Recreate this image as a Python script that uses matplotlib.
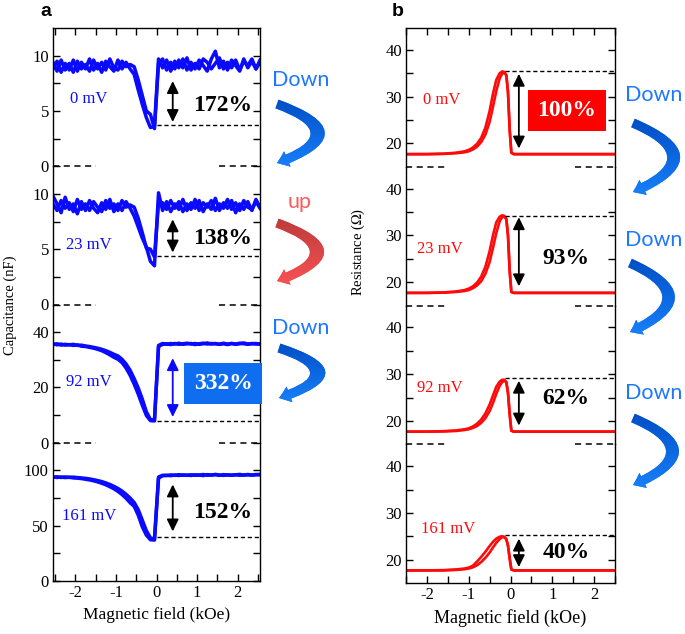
import numpy as np
import matplotlib.pyplot as plt
from matplotlib.patches import FancyArrowPatch
from matplotlib.colors import LinearSegmentedColormap
from matplotlib.ticker import MultipleLocator, FixedLocator

plt.rcParams['font.family'] = ['Liberation Serif', 'DejaVu Serif']
plt.rcParams['mathtext.fontset'] = 'stix'
plt.rcParams['axes.unicode_minus'] = False

# ---------------- data ----------------
bias = ['0 mV', '23 mV', '92 mV', '161 mV']

# panel a : capacitance (nF), two sweep branches per bias
xa = [-2.55, -2.45, -2.35, -2.25, -2.15, -2.05, -1.95, -1.85, -1.75, -1.65,
      -1.55, -1.45, -1.35, -1.25, -1.15, -1.05, -0.95, -0.85, -0.75, -0.65,
      -0.55, -0.45, -0.35, -0.25, -0.15, -0.05, 0.05, 0.15, 0.25, 0.35,
      0.45, 0.55, 0.65, 0.75, 0.85, 0.95, 1.05, 1.15, 1.25, 1.35,
      1.45, 1.55, 1.65, 1.75, 1.85, 1.95, 2.05, 2.15, 2.25, 2.35,
      2.45, 2.55]

cap_0_a = [8.8, 9.5, 8.5, 9.3, 8.7, 9.6, 8.6, 9.4, 8.8, 9.7,
           8.7, 9.3, 8.5, 9.5, 9.0, 8.6, 9.6, 8.8, 9.4, 8.8,
           8.3, 6.9, 5.6, 4.4, 3.5, 3.6, 9.7, 8.9, 9.6, 8.6,
           9.5, 8.9, 9.7, 8.7, 9.4, 8.8, 9.6, 9.1, 8.6, 9.7,
           10.4, 8.9, 9.5, 8.7, 9.6, 9.1, 8.6, 9.7, 8.9, 9.5,
           8.8, 9.6]
cap_0_b = [9.4, 8.6, 9.6, 8.7, 9.3, 8.5, 9.5, 8.8, 9.2, 8.6,
           9.6, 8.8, 9.4, 8.7, 9.7, 8.9, 8.7, 9.5, 9.0, 9.2,
           9.0, 7.8, 6.4, 5.0, 4.7, 3.4, 9.3, 9.7, 8.7, 9.4,
           8.8, 9.6, 8.9, 9.8, 8.7, 9.3, 8.8, 9.7, 9.4, 8.8,
           9.3, 9.8, 8.8, 9.4, 8.9, 9.6, 8.7, 9.5, 9.1, 9.7,
           8.8, 9.4]

cap_23_a = [9.8, 9.1, 8.3, 9.7, 8.6, 9.1, 8.2, 9.3, 8.5, 9.4,
            8.7, 8.3, 9.2, 8.6, 9.5, 8.4, 9.1, 8.5, 9.3, 8.7,
            8.0, 7.0, 6.0, 5.2, 3.9, 3.5, 10.1, 8.5, 9.3, 8.4,
            9.1, 8.6, 9.5, 8.5, 9.2, 8.7, 9.4, 8.4, 9.1, 8.6,
            9.6, 8.5, 9.2, 8.7, 9.4, 8.3, 9.1, 8.6, 9.3, 8.5,
            9.5, 8.8]
cap_23_b = [9.1, 8.5, 9.4, 8.7, 9.2, 8.4, 9.5, 8.6, 9.1, 8.5,
            9.3, 8.8, 8.4, 9.4, 8.7, 9.1, 8.5, 9.4, 8.8, 9.0,
            8.8, 7.8, 6.5, 5.1, 5.0, 4.3, 9.2, 9.2, 8.6, 9.4,
            8.7, 9.3, 8.4, 9.1, 8.6, 9.5, 8.5, 9.2, 8.8, 9.4,
            8.5, 9.1, 8.7, 9.5, 8.6, 9.2, 8.5, 9.4, 8.8, 8.6,
            9.3, 8.7]

cap_92_a = [35.8, 35.4, 35.7, 35.3, 35.5, 35.2, 35.4, 34.9, 34.8, 34.5,
            34.2, 33.8, 33.3, 32.6, 31.8, 30.9, 30.2, 29.0, 27.0, 24.4,
            21.2, 17.6, 13.6, 9.9, 8.0, 7.9, 34.8, 35.6, 35.8, 35.5,
            35.9, 35.6, 35.8, 36.0, 35.7, 35.9, 35.6, 35.8, 36.1, 35.7,
            35.9, 35.6, 35.8, 35.5, 35.9, 35.7, 36.0, 35.8, 35.6, 35.9,
            35.7, 35.8]
cap_92_b = [35.5, 35.8, 35.3, 35.6, 35.4, 35.6, 35.2, 35.3, 35.0, 34.8,
            34.5, 34.2, 33.8, 33.3, 32.7, 32.0, 31.4, 30.2, 28.5, 26.2,
            23.2, 19.8, 15.8, 11.2, 8.4, 8.2, 35.2, 35.9, 35.6, 35.9,
            35.7, 36.0, 35.6, 35.8, 35.9, 35.5, 35.8, 36.0, 35.7, 35.9,
            35.8, 35.6, 36.0, 35.7, 35.9, 35.6, 35.8, 36.1, 35.7, 35.8,
            35.9, 35.6]

cap_161_a = [94.2, 93.6, 94.0, 93.5, 93.8, 93.2, 93.0, 92.6, 92.0, 91.4,
             90.6, 89.6, 88.4, 87.0, 85.3, 83.4, 81.0, 78.2, 74.8, 70.8,
             67.5, 59.5, 49.0, 41.5, 37.3, 37.0, 93.0, 95.2, 95.6, 95.2,
             95.8, 95.4, 95.9, 95.5, 96.0, 95.6, 95.8, 95.3, 96.2, 95.7,
             96.4, 95.8, 95.5, 96.0, 95.7, 96.1, 95.6, 95.9, 96.3, 95.8,
             96.0, 96.5]
cap_161_b = [93.8, 94.2, 93.6, 94.0, 93.7, 93.9, 93.5, 93.2, 92.8, 92.3,
             91.6, 90.8, 89.9, 88.7, 87.3, 85.6, 83.7, 81.3, 78.4, 75.0,
             71.0, 64.5, 55.0, 45.5, 39.0, 37.8, 94.0, 95.6, 95.3, 95.9,
             95.5, 96.1, 95.6, 95.8, 95.4, 96.0, 95.7, 96.3, 95.6, 95.9,
             96.1, 95.5, 96.2, 95.8, 95.6, 96.0, 96.4, 95.7, 96.0, 95.8,
             96.3, 95.9]

cap_a = [cap_0_a, cap_23_a, cap_92_a, cap_161_a]
cap_b = [cap_0_b, cap_23_b, cap_92_b, cap_161_b]
cap_top = [12.5, 12.5, 50, 125]
cap_major = [[0, 5, 10], [0, 5, 10], [0, 20, 40], [0, 50, 100]]
cap_minor = [[2.5, 7.5], [2.5, 7.5], [10, 30], [25, 75]]
cap_min = [3.7, 4.35, 8.0, 39.4]
cap_arr = [(7.7, 4.0), (7.7, 4.7), (30.6, 9.3), (87.3, 44.8)]
cap_pct = ['172%', '138%', '332%', '152%']
cap_pct_y = [5.5, 6.0, 21.5, 61.5]
cap_lbl_y = [6.1, 5.4, 22.1, 58.5]

# panel b : resistance (Ohm)
xb = [-2.5, -2.0, -1.6, -1.3, -1.1, -1.0, -0.9, -0.8, -0.7, -0.6,
      -0.5, -0.42, -0.34, -0.26, -0.2, -0.15, -0.1, -0.06, -0.02, 0.02,
      0.08, 0.3, 1.0, 2.0, 2.5]

res_0_a = [17.7, 17.7, 17.8, 18.0, 18.3, 18.6, 19.1, 19.9, 21.2, 23.4,
           26.9, 30.6, 33.6, 35.0, 35.4, 35.3, 34.6, 31.0, 23.0, 18.0,
           17.7, 17.7, 17.7, 17.7, 17.7]
res_0_b = [17.7, 17.7, 17.75, 17.9, 18.1, 18.3, 18.7, 19.3, 20.3, 21.9,
           24.6, 27.8, 31.2, 33.9, 34.9, 35.2, 34.6, 31.0, 23.0, 18.0,
           17.7, 17.7, 17.7, 17.7, 17.7]
res_23_a = [17.7, 17.7, 17.8, 18.0, 18.3, 18.6, 19.1, 19.9, 21.2, 23.3,
            26.6, 30.0, 32.8, 34.0, 34.3, 34.2, 33.5, 30.0, 22.5, 17.9,
            17.7, 17.7, 17.7, 17.7, 17.7]
res_23_b = [17.7, 17.7, 17.75, 17.9, 18.1, 18.3, 18.7, 19.3, 20.2, 21.8,
            24.3, 27.3, 30.5, 33.0, 33.9, 34.1, 33.5, 30.0, 22.5, 17.9,
            17.7, 17.7, 17.7, 17.7, 17.7]
res_92_a = [17.7, 17.7, 17.8, 17.95, 18.2, 18.4, 18.8, 19.4, 20.3, 21.6,
            23.5, 25.4, 27.3, 28.4, 28.8, 28.8, 28.3, 26.0, 21.5, 17.9,
            17.7, 17.7, 17.7, 17.7, 17.7]
res_92_b = [17.7, 17.7, 17.75, 17.85, 18.05, 18.2, 18.5, 18.9, 19.6, 20.6,
            22.1, 23.8, 25.8, 27.5, 28.3, 28.6, 28.3, 26.0, 21.5, 17.9,
            17.7, 17.7, 17.7, 17.7, 17.7]
res_161_a = [17.7, 17.7, 17.75, 17.9, 18.1, 18.3, 18.7, 19.6, 20.6, 21.7,
             22.9, 23.8, 24.5, 24.9, 25.0, 24.9, 24.4, 23.0, 20.3, 17.9,
             17.7, 17.7, 17.7, 17.7, 17.7]
res_161_b = [17.7, 17.7, 17.7, 17.8, 17.95, 18.1, 18.35, 18.8, 19.5, 20.4,
             21.5, 22.6, 23.6, 24.4, 24.8, 24.8, 24.4, 23.0, 20.3, 17.9,
             17.7, 17.7, 17.7, 17.7, 17.7]

res_a = [res_0_a, res_23_a, res_92_a, res_161_a]
res_b = [res_0_b, res_23_b, res_92_b, res_161_b]
res_peak = [35.5, 34.2, 29.1, 25.2]
res_arr = [(34.9, 18.9), (33.9, 19.1), (28.6, 19.0), (24.5, 18.4)]
res_pct = ['100%', '93%', '62%', '40%']
res_pct_y = [27.0, 25.0, 24.7, 21.6]
res_lbl_x = [-1.65, -1.68, -1.7, -1.49]
res_lbl_y = [29.2, 27.2, 27.1, 26.6]

# ---------------- figure ----------------
W, H = 685, 634
fig = plt.figure(figsize=(W / 100, H / 100), dpi=100)


def stack(left, right, top, bottom, n=4):
    h = (bottom - top) / n
    axs = []
    for i in range(n):
        ax = fig.add_axes([left / W, 1 - (top + (i + 1) * h) / H,
                           (right - left) / W, h / H])
        axs.append(ax)
    return axs


def style(ax, i, xlim):
    ax.set_xlim(*xlim)
    ax.xaxis.set_major_locator(MultipleLocator(1))
    ax.xaxis.set_minor_locator(MultipleLocator(0.5))
    ax.tick_params(which='both', direction='in', length=5, width=1,
                   right=True, top=(i == 0), bottom=(i == 3),
                   labelbottom=(i == 3), labelsize=12, pad=3)
    if i > 0:
        ax.spines['top'].set_visible(False)
    if i < 3:
        ax.spines['bottom'].set_visible(False)
    for s in ax.spines.values():
        s.set_linewidth(1)
    ax.patch.set_alpha(0)


blue = '#0a0aff'
red = '#ff0a0a'

# panel a
axa = stack(53, 260, 28, 581)
for i, ax in enumerate(axa):
    ax.plot(xa, cap_a[i], color=blue, lw=2.5)
    ax.plot(xa, cap_b[i], color=blue, lw=2.5)
    style(ax, i, (-2.55, 2.55))
    ax.set_ylim(0, cap_top[i])
    ax.yaxis.set_major_locator(FixedLocator(cap_major[i]))
    ax.yaxis.set_minor_locator(FixedLocator(cap_minor[i]))
    if i < 3:
        ax.plot([-2.55, -1.5], [0, 0], color='k', lw=1.1, ls=(0, (4, 3)), clip_on=False)
        ax.plot([1.55, 2.55], [0, 0], color='k', lw=1.1, ls=(0, (4, 3)), clip_on=False)
    ax.plot([0.0, 2.55], [cap_min[i]] * 2, color='k', lw=1, ls=(0, (3, 2)))
    acol = blue if i == 2 else 'k'
    ax.annotate('', xy=(0.4, cap_arr[i][1]), xytext=(0.4, cap_arr[i][0]),
                arrowprops=dict(arrowstyle='<|-|>,head_length=0.45,head_width=0.22',
                                color=acol, lw=1.3, shrinkA=0, shrinkB=0,
                                mutation_scale=16))
    ax.text(-1.67, cap_lbl_y[i], bias[i], color=blue, fontsize=12,
            ha='center', va='center')
    if i == 2:
        ax.text(1.64, cap_pct_y[i], cap_pct[i], color='white', fontsize=17,
                fontweight='bold', ha='center', va='center', clip_on=False,
                zorder=5,
                bbox=dict(boxstyle='square,pad=0.42', fc='#0f6ef0', ec='none'))
    else:
        ax.text(1.62, cap_pct_y[i], cap_pct[i], color='k', fontsize=17,
                fontweight='bold', ha='center', va='center')
axa[3].set_xlabel('Magnetic field (kOe)', fontsize=12.5, labelpad=4)

# panel b
axb = stack(406, 615, 28, 583)
for i, ax in enumerate(axb):
    ax.plot(xb, res_a[i], color=red, lw=1.9)
    ax.plot(xb, res_b[i], color=red, lw=1.9)
    style(ax, i, (-2.5, 2.5))
    ax.set_ylim(15, 44.7)
    ax.yaxis.set_major_locator(FixedLocator([20, 30, 40]))
    ax.yaxis.set_minor_locator(FixedLocator([25, 35]))
    if i < 3:
        ax.plot([-2.5, -1.5], [15, 15], color='k', lw=1.1, ls=(0, (4, 3)), clip_on=False)
        ax.plot([1.55, 2.5], [15, 15], color='k', lw=1.1, ls=(0, (4, 3)), clip_on=False)
    ax.plot([-0.12, 2.5], [res_peak[i]] * 2, color='k', lw=1, ls=(0, (3, 2)))
    ax.annotate('', xy=(0.2, res_arr[i][1]), xytext=(0.2, res_arr[i][0]),
                arrowprops=dict(arrowstyle='<|-|>,head_length=0.45,head_width=0.22',
                                color='k', lw=1.3, shrinkA=0, shrinkB=0,
                                mutation_scale=16))
    ax.text(res_lbl_x[i], res_lbl_y[i], bias[i], color=red, fontsize=12,
            ha='center', va='center')
    if i == 0:
        ax.text(1.35, res_pct_y[i], res_pct[i], color='white', fontsize=17,
                fontweight='bold', ha='center', va='center', zorder=5,
                bbox=dict(boxstyle='square,pad=0.42', fc='#ff0000', ec='none'))
    else:
        ax.text(1.33, res_pct_y[i], res_pct[i], color='k', fontsize=17,
                fontweight='bold', ha='center', va='center')
axb[3].set_xlabel('Magnetic field (kOe)', fontsize=13, labelpad=4)

fig.text(10 / W, 1 - 305 / H, 'Capacitance (nF)', rotation=90, fontsize=10.5,
         ha='center', va='center')
fig.text(358 / W, 1 - 252 / H, r'Resistance ($\Omega$)', rotation=90, fontsize=10.5,
         ha='center', va='center')
fig.text(46 / W, 1 - 12 / H, 'a', fontsize=14, fontweight='bold',
         family='Liberation Sans', ha='center', va='center')
fig.text(398 / W, 1 - 12 / H, 'b', fontsize=14, fontweight='bold',
         family='Liberation Sans', ha='center', va='center')

# curved "Down"/"up" arrows, drawn in pixel coordinates on an overlay
ov = fig.add_axes([0, 0, 1, 1], zorder=10)
ov.set_xlim(0, W)
ov.set_ylim(H, 0)
ov.axis('off')

blue_grad = LinearSegmentedColormap.from_list('bg', ['#004cc4', '#1a86ff'])
red_grad = LinearSegmentedColormap.from_list('rg', ['#bb3a3a', '#ff5555'])
grad = np.linspace(0, 1, 64).reshape(-1, 1)

# (x_start, y_start, x_tip, y_tip, rad, cmap)
bends = [(277, 104, 277, 163, -1.38, blue_grad),
         (277, 223, 277, 281, -1.38, red_grad),
         (279, 348, 279, 398, -1.55, blue_grad),
         (633, 123, 633, 192, -1.18, blue_grad),
         (630, 263, 630, 332, -1.12, blue_grad),
         (633, 418, 633, 485, -1.18, blue_grad)]
for x0, y0, x1, y1, rad, cm in bends:
    arr = FancyArrowPatch((x0, y0), (x1, y1), connectionstyle=f'arc3,rad={rad}',
                          arrowstyle='simple,head_length=0.8,head_width=1.2,tail_width=0.66',
                          mutation_scale=10, shrinkA=0, shrinkB=0,
                          fc=cm(0.6), ec='none')
    ov.add_patch(arr)
    im = ov.imshow(grad, cmap=cm, extent=(x0 - 15, x0 + 60, y1 + 12, y0 - 8),
                   aspect='auto', interpolation='bilinear', zorder=3)
    im.set_clip_path(arr)
ov.set_xlim(0, W)
ov.set_ylim(H, 0)

words = [(301, 80, 'Down', '#1e78ff'), (300, 202, 'up', '#ff5a5a'),
         (301, 328, 'Down', '#1e78ff'), (654, 95, 'Down', '#1e78ff'),
         (654, 240, 'Down', '#1e78ff'), (654, 393, 'Down', '#1e78ff')]
for x, y, s, c in words:
    ov.text(x, y, s, color=c, fontsize=15.5, family='Lato', ha='center', va='center')

fig.savefig('out.png', dpi=100)
